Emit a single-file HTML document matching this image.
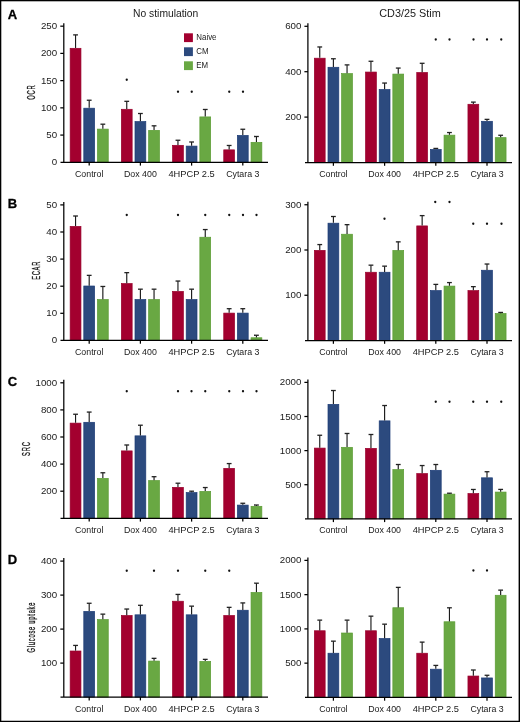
<!DOCTYPE html>
<html><head><meta charset="utf-8"><style>
html,body{margin:0;padding:0;background:#fff;}
body{width:520px;height:722px;overflow:hidden;}
svg{display:block;will-change:transform;}
text{font-family:"Liberation Sans", sans-serif;fill:#1a1a1a;}
.t{font-size:9.2px;text-anchor:end;}
.x{font-size:8.8px;text-anchor:middle;}
.yt{font-size:11.5px;text-anchor:middle;stroke:#1a1a1a;stroke-width:0.35;}
.p{font-size:13px;font-weight:bold;fill:#000;stroke:#000;stroke-width:0.3;}
.ti{font-size:10.3px;text-anchor:middle;}
.lg{font-size:8.4px;}
.a{stroke:#000;stroke-width:1.25;}
.e{stroke:#1a1a1a;stroke-width:1.15;}
.c{stroke:#222;stroke-width:1.3;}
</style></head><body>
<svg width="520" height="722" viewBox="0 0 520 722">
<rect x="0" y="0" width="520" height="722" fill="#fff"/>
<rect x="70.15" y="48.31" width="10.8" height="114" fill="#a3002f" stroke="#98002c" stroke-width="0.7"/>
<line x1="75.55" y1="47.96" x2="75.55" y2="34.89" class="e"/>
<line x1="73.15" y1="34.89" x2="77.95" y2="34.89" class="c"/>
<rect x="83.8" y="108.2" width="10.8" height="54.1" fill="#2c4a7e" stroke="#1c3b76" stroke-width="0.7"/>
<line x1="89.2" y1="107.85" x2="89.2" y2="100.23" class="e"/>
<line x1="86.8" y1="100.23" x2="91.6" y2="100.23" class="c"/>
<rect x="97.45" y="129.11" width="10.8" height="33.19" fill="#69a843" stroke="#5a9c33" stroke-width="0.7"/>
<line x1="102.85" y1="128.76" x2="102.85" y2="124.19" class="e"/>
<line x1="100.45" y1="124.19" x2="105.25" y2="124.19" class="c"/>
<rect x="121.35" y="109.29" width="10.8" height="53.01" fill="#a3002f" stroke="#98002c" stroke-width="0.7"/>
<line x1="126.75" y1="108.94" x2="126.75" y2="101.32" class="e"/>
<line x1="124.35" y1="101.32" x2="129.15" y2="101.32" class="c"/>
<rect x="135" y="121.59" width="10.8" height="40.71" fill="#2c4a7e" stroke="#1c3b76" stroke-width="0.7"/>
<line x1="140.4" y1="121.24" x2="140.4" y2="113.51" class="e"/>
<line x1="138" y1="113.51" x2="142.8" y2="113.51" class="c"/>
<rect x="148.65" y="130.36" width="10.8" height="31.94" fill="#69a843" stroke="#5a9c33" stroke-width="0.7"/>
<line x1="154.05" y1="130.01" x2="154.05" y2="125.82" class="e"/>
<line x1="151.65" y1="125.82" x2="156.45" y2="125.82" class="c"/>
<rect x="172.55" y="145.33" width="10.8" height="16.97" fill="#a3002f" stroke="#98002c" stroke-width="0.7"/>
<line x1="177.95" y1="144.98" x2="177.95" y2="140.25" class="e"/>
<line x1="175.55" y1="140.25" x2="180.35" y2="140.25" class="c"/>
<rect x="186.2" y="146.1" width="10.8" height="16.2" fill="#2c4a7e" stroke="#1c3b76" stroke-width="0.7"/>
<line x1="191.6" y1="145.75" x2="191.6" y2="141.99" class="e"/>
<line x1="189.2" y1="141.99" x2="194" y2="141.99" class="c"/>
<rect x="199.85" y="116.91" width="10.8" height="45.39" fill="#69a843" stroke="#5a9c33" stroke-width="0.7"/>
<line x1="205.25" y1="116.56" x2="205.25" y2="109.48" class="e"/>
<line x1="202.85" y1="109.48" x2="207.65" y2="109.48" class="c"/>
<rect x="223.75" y="149.85" width="10.8" height="12.45" fill="#a3002f" stroke="#98002c" stroke-width="0.7"/>
<line x1="229.15" y1="149.5" x2="229.15" y2="145.47" class="e"/>
<line x1="226.75" y1="145.47" x2="231.55" y2="145.47" class="c"/>
<rect x="237.4" y="135.43" width="10.8" height="26.87" fill="#2c4a7e" stroke="#1c3b76" stroke-width="0.7"/>
<line x1="242.8" y1="135.08" x2="242.8" y2="129.25" class="e"/>
<line x1="240.4" y1="129.25" x2="245.2" y2="129.25" class="c"/>
<rect x="251.05" y="142.34" width="10.8" height="19.96" fill="#69a843" stroke="#5a9c33" stroke-width="0.7"/>
<line x1="256.45" y1="141.99" x2="256.45" y2="136.49" class="e"/>
<line x1="254.05" y1="136.49" x2="258.85" y2="136.49" class="c"/>
<line x1="63.8" y1="23.18" x2="63.8" y2="162.3" class="a"/>
<line x1="60.5" y1="162.3" x2="268" y2="162.3" class="a"/>
<text transform="translate(57.2,165.3) scale(1.06,1)" class="t">0</text>
<line x1="60.3" y1="135.08" x2="63.8" y2="135.08" class="a"/>
<text transform="translate(57.2,138.08) scale(1.06,1)" class="t">50</text>
<line x1="60.3" y1="107.85" x2="63.8" y2="107.85" class="a"/>
<text transform="translate(57.2,110.85) scale(1.06,1)" class="t">100</text>
<line x1="60.3" y1="80.63" x2="63.8" y2="80.63" class="a"/>
<text transform="translate(57.2,83.63) scale(1.06,1)" class="t">150</text>
<line x1="60.3" y1="53.4" x2="63.8" y2="53.4" class="a"/>
<text transform="translate(57.2,56.4) scale(1.06,1)" class="t">200</text>
<line x1="60.3" y1="26.18" x2="63.8" y2="26.18" class="a"/>
<text transform="translate(57.2,29.18) scale(1.06,1)" class="t">250</text>
<line x1="89.2" y1="162.3" x2="89.2" y2="165.6" class="a"/>
<text x="89.2" y="176.7" class="x">Control</text>
<line x1="140.4" y1="162.3" x2="140.4" y2="165.6" class="a"/>
<text x="140.4" y="176.7" class="x">Dox 400</text>
<line x1="191.6" y1="162.3" x2="191.6" y2="165.6" class="a"/>
<text x="191.6" y="176.7" class="x" textLength="46.3" lengthAdjust="spacingAndGlyphs">4HPCP 2.5</text>
<line x1="242.8" y1="162.3" x2="242.8" y2="165.6" class="a"/>
<text x="242.8" y="176.7" class="x">Cytara 3</text>
<circle cx="126.75" cy="79.75" r="1.15" fill="#111"/>
<circle cx="178" cy="91.75" r="1.15" fill="#111"/>
<circle cx="191.75" cy="91.75" r="1.15" fill="#111"/>
<circle cx="229.25" cy="91.75" r="1.15" fill="#111"/>
<circle cx="243" cy="91.75" r="1.15" fill="#111"/>
<text transform="translate(35.2,92.6) rotate(-90) scale(0.5,1)" x="0.75" y="0" class="yt" letter-spacing="1.50">OCR</text>
<rect x="314.35" y="58.2" width="10.8" height="104.3" fill="#a3002f" stroke="#98002c" stroke-width="0.7"/>
<line x1="319.75" y1="57.85" x2="319.75" y2="46.96" class="e"/>
<line x1="317.35" y1="46.96" x2="322.15" y2="46.96" class="c"/>
<rect x="328" y="67.28" width="10.8" height="95.22" fill="#2c4a7e" stroke="#1c3b76" stroke-width="0.7"/>
<line x1="333.4" y1="66.93" x2="333.4" y2="58.76" class="e"/>
<line x1="331" y1="58.76" x2="335.8" y2="58.76" class="c"/>
<rect x="341.65" y="73.64" width="10.8" height="88.86" fill="#69a843" stroke="#5a9c33" stroke-width="0.7"/>
<line x1="347.05" y1="73.29" x2="347.05" y2="64.89" class="e"/>
<line x1="344.65" y1="64.89" x2="349.45" y2="64.89" class="c"/>
<rect x="365.55" y="72.05" width="10.8" height="90.45" fill="#a3002f" stroke="#98002c" stroke-width="0.7"/>
<line x1="370.95" y1="71.7" x2="370.95" y2="61.26" class="e"/>
<line x1="368.55" y1="61.26" x2="373.35" y2="61.26" class="c"/>
<rect x="379.2" y="89.53" width="10.8" height="72.97" fill="#2c4a7e" stroke="#1c3b76" stroke-width="0.7"/>
<line x1="384.6" y1="89.18" x2="384.6" y2="83.05" class="e"/>
<line x1="382.2" y1="83.05" x2="387" y2="83.05" class="c"/>
<rect x="392.85" y="74.09" width="10.8" height="88.41" fill="#69a843" stroke="#5a9c33" stroke-width="0.7"/>
<line x1="398.25" y1="73.74" x2="398.25" y2="68.07" class="e"/>
<line x1="395.85" y1="68.07" x2="400.65" y2="68.07" class="c"/>
<rect x="416.75" y="72.5" width="10.8" height="90" fill="#a3002f" stroke="#98002c" stroke-width="0.7"/>
<line x1="422.15" y1="72.15" x2="422.15" y2="63.3" class="e"/>
<line x1="419.75" y1="63.3" x2="424.55" y2="63.3" class="c"/>
<rect x="430.4" y="149.46" width="10.8" height="13.04" fill="#2c4a7e" stroke="#1c3b76" stroke-width="0.7"/>
<line x1="435.8" y1="149.11" x2="435.8" y2="148.43" class="e"/>
<line x1="433.4" y1="148.43" x2="438.2" y2="148.43" class="c"/>
<rect x="444.05" y="135.16" width="10.8" height="27.34" fill="#69a843" stroke="#5a9c33" stroke-width="0.7"/>
<line x1="449.45" y1="134.81" x2="449.45" y2="132.54" class="e"/>
<line x1="447.05" y1="132.54" x2="451.85" y2="132.54" class="c"/>
<rect x="467.95" y="104.28" width="10.8" height="58.22" fill="#a3002f" stroke="#98002c" stroke-width="0.7"/>
<line x1="473.35" y1="103.93" x2="473.35" y2="102.12" class="e"/>
<line x1="470.95" y1="102.12" x2="475.75" y2="102.12" class="c"/>
<rect x="481.6" y="121.31" width="10.8" height="41.19" fill="#2c4a7e" stroke="#1c3b76" stroke-width="0.7"/>
<line x1="487" y1="120.96" x2="487" y2="119.37" class="e"/>
<line x1="484.6" y1="119.37" x2="489.4" y2="119.37" class="c"/>
<rect x="495.25" y="137.65" width="10.8" height="24.85" fill="#69a843" stroke="#5a9c33" stroke-width="0.7"/>
<line x1="500.65" y1="137.3" x2="500.65" y2="135.26" class="e"/>
<line x1="498.25" y1="135.26" x2="503.05" y2="135.26" class="c"/>
<line x1="307.9" y1="23.3" x2="307.9" y2="162.5" class="a"/>
<line x1="305" y1="162.5" x2="512" y2="162.5" class="a"/>
<line x1="304.4" y1="117.1" x2="307.9" y2="117.1" class="a"/>
<text transform="translate(301.4,120.1) scale(1.06,1)" class="t">200</text>
<line x1="304.4" y1="71.7" x2="307.9" y2="71.7" class="a"/>
<text transform="translate(301.4,74.7) scale(1.06,1)" class="t">400</text>
<line x1="304.4" y1="26.3" x2="307.9" y2="26.3" class="a"/>
<text transform="translate(301.4,29.3) scale(1.06,1)" class="t">600</text>
<line x1="333.4" y1="162.5" x2="333.4" y2="165.8" class="a"/>
<text x="333.4" y="176.9" class="x">Control</text>
<line x1="384.6" y1="162.5" x2="384.6" y2="165.8" class="a"/>
<text x="384.6" y="176.9" class="x">Dox 400</text>
<line x1="435.8" y1="162.5" x2="435.8" y2="165.8" class="a"/>
<text x="435.8" y="176.9" class="x" textLength="46.3" lengthAdjust="spacingAndGlyphs">4HPCP 2.5</text>
<line x1="487" y1="162.5" x2="487" y2="165.8" class="a"/>
<text x="487" y="176.9" class="x">Cytara 3</text>
<circle cx="435.75" cy="39.5" r="1.15" fill="#111"/>
<circle cx="449.5" cy="39.5" r="1.15" fill="#111"/>
<circle cx="473.5" cy="39.5" r="1.15" fill="#111"/>
<circle cx="487" cy="39.5" r="1.15" fill="#111"/>
<circle cx="501.25" cy="39.5" r="1.15" fill="#111"/>
<rect x="70.15" y="226.39" width="10.8" height="114.01" fill="#a3002f" stroke="#98002c" stroke-width="0.7"/>
<line x1="75.55" y1="226.04" x2="75.55" y2="216.01" class="e"/>
<line x1="73.15" y1="216.01" x2="77.95" y2="216.01" class="c"/>
<rect x="83.8" y="286.01" width="10.8" height="54.39" fill="#2c4a7e" stroke="#1c3b76" stroke-width="0.7"/>
<line x1="89.2" y1="285.66" x2="89.2" y2="275.36" class="e"/>
<line x1="86.8" y1="275.36" x2="91.6" y2="275.36" class="c"/>
<rect x="97.45" y="299.56" width="10.8" height="40.84" fill="#69a843" stroke="#5a9c33" stroke-width="0.7"/>
<line x1="102.85" y1="299.21" x2="102.85" y2="286.47" class="e"/>
<line x1="100.45" y1="286.47" x2="105.25" y2="286.47" class="c"/>
<rect x="121.35" y="283.57" width="10.8" height="56.83" fill="#a3002f" stroke="#98002c" stroke-width="0.7"/>
<line x1="126.75" y1="283.22" x2="126.75" y2="272.65" class="e"/>
<line x1="124.35" y1="272.65" x2="129.15" y2="272.65" class="c"/>
<rect x="135" y="299.56" width="10.8" height="40.84" fill="#2c4a7e" stroke="#1c3b76" stroke-width="0.7"/>
<line x1="140.4" y1="299.21" x2="140.4" y2="289.18" class="e"/>
<line x1="138" y1="289.18" x2="142.8" y2="289.18" class="c"/>
<rect x="148.65" y="299.56" width="10.8" height="40.84" fill="#69a843" stroke="#5a9c33" stroke-width="0.7"/>
<line x1="154.05" y1="299.21" x2="154.05" y2="289.18" class="e"/>
<line x1="151.65" y1="289.18" x2="156.45" y2="289.18" class="c"/>
<rect x="172.55" y="291.43" width="10.8" height="48.97" fill="#a3002f" stroke="#98002c" stroke-width="0.7"/>
<line x1="177.95" y1="291.08" x2="177.95" y2="281.05" class="e"/>
<line x1="175.55" y1="281.05" x2="180.35" y2="281.05" class="c"/>
<rect x="186.2" y="299.56" width="10.8" height="40.84" fill="#2c4a7e" stroke="#1c3b76" stroke-width="0.7"/>
<line x1="191.6" y1="299.21" x2="191.6" y2="289.18" class="e"/>
<line x1="189.2" y1="289.18" x2="194" y2="289.18" class="c"/>
<rect x="199.85" y="237.23" width="10.8" height="103.17" fill="#69a843" stroke="#5a9c33" stroke-width="0.7"/>
<line x1="205.25" y1="236.88" x2="205.25" y2="229.56" class="e"/>
<line x1="202.85" y1="229.56" x2="207.65" y2="229.56" class="c"/>
<rect x="223.75" y="313.11" width="10.8" height="27.29" fill="#a3002f" stroke="#98002c" stroke-width="0.7"/>
<line x1="229.15" y1="312.76" x2="229.15" y2="308.69" class="e"/>
<line x1="226.75" y1="308.69" x2="231.55" y2="308.69" class="c"/>
<rect x="237.4" y="313.11" width="10.8" height="27.29" fill="#2c4a7e" stroke="#1c3b76" stroke-width="0.7"/>
<line x1="242.8" y1="312.76" x2="242.8" y2="308.69" class="e"/>
<line x1="240.4" y1="308.69" x2="245.2" y2="308.69" class="c"/>
<rect x="251.05" y="337.77" width="10.8" height="2.63" fill="#69a843" stroke="#5a9c33" stroke-width="0.7"/>
<line x1="256.45" y1="337.42" x2="256.45" y2="335.25" class="e"/>
<line x1="254.05" y1="335.25" x2="258.85" y2="335.25" class="c"/>
<line x1="63.8" y1="201.9" x2="63.8" y2="340.4" class="a"/>
<line x1="60.5" y1="340.4" x2="268" y2="340.4" class="a"/>
<text transform="translate(57.2,343.4) scale(1.06,1)" class="t">0</text>
<line x1="60.3" y1="313.3" x2="63.8" y2="313.3" class="a"/>
<text transform="translate(57.2,316.3) scale(1.06,1)" class="t">10</text>
<line x1="60.3" y1="286.2" x2="63.8" y2="286.2" class="a"/>
<text transform="translate(57.2,289.2) scale(1.06,1)" class="t">20</text>
<line x1="60.3" y1="259.1" x2="63.8" y2="259.1" class="a"/>
<text transform="translate(57.2,262.1) scale(1.06,1)" class="t">30</text>
<line x1="60.3" y1="232" x2="63.8" y2="232" class="a"/>
<text transform="translate(57.2,235) scale(1.06,1)" class="t">40</text>
<line x1="60.3" y1="204.9" x2="63.8" y2="204.9" class="a"/>
<text transform="translate(57.2,207.9) scale(1.06,1)" class="t">50</text>
<line x1="89.2" y1="340.4" x2="89.2" y2="343.7" class="a"/>
<text x="89.2" y="354.8" class="x">Control</text>
<line x1="140.4" y1="340.4" x2="140.4" y2="343.7" class="a"/>
<text x="140.4" y="354.8" class="x">Dox 400</text>
<line x1="191.6" y1="340.4" x2="191.6" y2="343.7" class="a"/>
<text x="191.6" y="354.8" class="x" textLength="46.3" lengthAdjust="spacingAndGlyphs">4HPCP 2.5</text>
<line x1="242.8" y1="340.4" x2="242.8" y2="343.7" class="a"/>
<text x="242.8" y="354.8" class="x">Cytara 3</text>
<circle cx="126.75" cy="215" r="1.15" fill="#111"/>
<circle cx="178" cy="215" r="1.15" fill="#111"/>
<circle cx="205.25" cy="215" r="1.15" fill="#111"/>
<circle cx="229.25" cy="215" r="1.15" fill="#111"/>
<circle cx="243" cy="215" r="1.15" fill="#111"/>
<circle cx="256.5" cy="215" r="1.15" fill="#111"/>
<text transform="translate(40.2,270.75) rotate(-90) scale(0.5,1)" x="0.7" y="0" class="yt" letter-spacing="1.40">ECAR</text>
<rect x="314.35" y="250.35" width="10.8" height="90.15" fill="#a3002f" stroke="#98002c" stroke-width="0.7"/>
<line x1="319.75" y1="250" x2="319.75" y2="244.57" class="e"/>
<line x1="317.35" y1="244.57" x2="322.15" y2="244.57" class="c"/>
<rect x="328" y="223.2" width="10.8" height="117.3" fill="#2c4a7e" stroke="#1c3b76" stroke-width="0.7"/>
<line x1="333.4" y1="222.85" x2="333.4" y2="216.51" class="e"/>
<line x1="331" y1="216.51" x2="335.8" y2="216.51" class="c"/>
<rect x="341.65" y="234.24" width="10.8" height="106.26" fill="#69a843" stroke="#5a9c33" stroke-width="0.7"/>
<line x1="347.05" y1="233.89" x2="347.05" y2="224.66" class="e"/>
<line x1="344.65" y1="224.66" x2="349.45" y2="224.66" class="c"/>
<rect x="365.55" y="272.25" width="10.8" height="68.25" fill="#a3002f" stroke="#98002c" stroke-width="0.7"/>
<line x1="370.95" y1="271.9" x2="370.95" y2="265.16" class="e"/>
<line x1="368.55" y1="265.16" x2="373.35" y2="265.16" class="c"/>
<rect x="379.2" y="272.25" width="10.8" height="68.25" fill="#2c4a7e" stroke="#1c3b76" stroke-width="0.7"/>
<line x1="384.6" y1="271.9" x2="384.6" y2="266.15" class="e"/>
<line x1="382.2" y1="266.15" x2="387" y2="266.15" class="c"/>
<rect x="392.85" y="250.49" width="10.8" height="90.01" fill="#69a843" stroke="#5a9c33" stroke-width="0.7"/>
<line x1="398.25" y1="250.14" x2="398.25" y2="241.86" class="e"/>
<line x1="395.85" y1="241.86" x2="400.65" y2="241.86" class="c"/>
<rect x="416.75" y="225.91" width="10.8" height="114.59" fill="#a3002f" stroke="#98002c" stroke-width="0.7"/>
<line x1="422.15" y1="225.56" x2="422.15" y2="215.61" class="e"/>
<line x1="419.75" y1="215.61" x2="424.55" y2="215.61" class="c"/>
<rect x="430.4" y="290.62" width="10.8" height="49.88" fill="#2c4a7e" stroke="#1c3b76" stroke-width="0.7"/>
<line x1="435.8" y1="290.27" x2="435.8" y2="284.39" class="e"/>
<line x1="433.4" y1="284.39" x2="438.2" y2="284.39" class="c"/>
<rect x="444.05" y="286.1" width="10.8" height="54.4" fill="#69a843" stroke="#5a9c33" stroke-width="0.7"/>
<line x1="449.45" y1="285.75" x2="449.45" y2="282.58" class="e"/>
<line x1="447.05" y1="282.58" x2="451.85" y2="282.58" class="c"/>
<rect x="467.95" y="290.62" width="10.8" height="49.88" fill="#a3002f" stroke="#98002c" stroke-width="0.7"/>
<line x1="473.35" y1="290.27" x2="473.35" y2="286.65" class="e"/>
<line x1="470.95" y1="286.65" x2="475.75" y2="286.65" class="c"/>
<rect x="481.6" y="270.26" width="10.8" height="70.24" fill="#2c4a7e" stroke="#1c3b76" stroke-width="0.7"/>
<line x1="487" y1="269.91" x2="487" y2="264.03" class="e"/>
<line x1="484.6" y1="264.03" x2="489.4" y2="264.03" class="c"/>
<rect x="495.25" y="313.52" width="10.8" height="26.98" fill="#69a843" stroke="#5a9c33" stroke-width="0.7"/>
<line x1="500.65" y1="313.17" x2="500.65" y2="312.44" class="e"/>
<line x1="498.25" y1="312.44" x2="503.05" y2="312.44" class="c"/>
<line x1="307.9" y1="201.75" x2="307.9" y2="340.5" class="a"/>
<line x1="305" y1="340.5" x2="512" y2="340.5" class="a"/>
<line x1="304.4" y1="295.25" x2="307.9" y2="295.25" class="a"/>
<text transform="translate(301.4,298.25) scale(1.06,1)" class="t">100</text>
<line x1="304.4" y1="250" x2="307.9" y2="250" class="a"/>
<text transform="translate(301.4,253) scale(1.06,1)" class="t">200</text>
<line x1="304.4" y1="204.75" x2="307.9" y2="204.75" class="a"/>
<text transform="translate(301.4,207.75) scale(1.06,1)" class="t">300</text>
<line x1="333.4" y1="340.5" x2="333.4" y2="343.8" class="a"/>
<text x="333.4" y="354.9" class="x">Control</text>
<line x1="384.6" y1="340.5" x2="384.6" y2="343.8" class="a"/>
<text x="384.6" y="354.9" class="x">Dox 400</text>
<line x1="435.8" y1="340.5" x2="435.8" y2="343.8" class="a"/>
<text x="435.8" y="354.9" class="x" textLength="46.3" lengthAdjust="spacingAndGlyphs">4HPCP 2.5</text>
<line x1="487" y1="340.5" x2="487" y2="343.8" class="a"/>
<text x="487" y="354.9" class="x">Cytara 3</text>
<circle cx="384.5" cy="218.75" r="1.15" fill="#111"/>
<circle cx="435.25" cy="202" r="1.15" fill="#111"/>
<circle cx="449.5" cy="202" r="1.15" fill="#111"/>
<circle cx="473.25" cy="223.75" r="1.15" fill="#111"/>
<circle cx="487" cy="223.75" r="1.15" fill="#111"/>
<circle cx="501.5" cy="223.75" r="1.15" fill="#111"/>
<rect x="70.15" y="423.12" width="10.8" height="95.18" fill="#a3002f" stroke="#98002c" stroke-width="0.7"/>
<line x1="75.55" y1="422.77" x2="75.55" y2="414.24" class="e"/>
<line x1="73.15" y1="414.24" x2="77.95" y2="414.24" class="c"/>
<rect x="83.8" y="422.31" width="10.8" height="95.99" fill="#2c4a7e" stroke="#1c3b76" stroke-width="0.7"/>
<line x1="89.2" y1="421.96" x2="89.2" y2="412.07" class="e"/>
<line x1="86.8" y1="412.07" x2="91.6" y2="412.07" class="c"/>
<rect x="97.45" y="478.41" width="10.8" height="39.89" fill="#69a843" stroke="#5a9c33" stroke-width="0.7"/>
<line x1="102.85" y1="478.06" x2="102.85" y2="472.77" class="e"/>
<line x1="100.45" y1="472.77" x2="105.25" y2="472.77" class="c"/>
<rect x="121.35" y="450.9" width="10.8" height="67.4" fill="#a3002f" stroke="#98002c" stroke-width="0.7"/>
<line x1="126.75" y1="450.55" x2="126.75" y2="444.99" class="e"/>
<line x1="124.35" y1="444.99" x2="129.15" y2="444.99" class="c"/>
<rect x="135" y="435.86" width="10.8" height="82.44" fill="#2c4a7e" stroke="#1c3b76" stroke-width="0.7"/>
<line x1="140.4" y1="435.51" x2="140.4" y2="425.21" class="e"/>
<line x1="138" y1="425.21" x2="142.8" y2="425.21" class="c"/>
<rect x="148.65" y="480.57" width="10.8" height="37.73" fill="#69a843" stroke="#5a9c33" stroke-width="0.7"/>
<line x1="154.05" y1="480.22" x2="154.05" y2="476.7" class="e"/>
<line x1="151.65" y1="476.7" x2="156.45" y2="476.7" class="c"/>
<rect x="172.55" y="487.35" width="10.8" height="30.95" fill="#a3002f" stroke="#98002c" stroke-width="0.7"/>
<line x1="177.95" y1="487" x2="177.95" y2="483.21" class="e"/>
<line x1="175.55" y1="483.21" x2="180.35" y2="483.21" class="c"/>
<rect x="186.2" y="492.63" width="10.8" height="25.67" fill="#2c4a7e" stroke="#1c3b76" stroke-width="0.7"/>
<line x1="191.6" y1="492.28" x2="191.6" y2="491.2" class="e"/>
<line x1="189.2" y1="491.2" x2="194" y2="491.2" class="c"/>
<rect x="199.85" y="491.41" width="10.8" height="26.89" fill="#69a843" stroke="#5a9c33" stroke-width="0.7"/>
<line x1="205.25" y1="491.06" x2="205.25" y2="487.54" class="e"/>
<line x1="202.85" y1="487.54" x2="207.65" y2="487.54" class="c"/>
<rect x="223.75" y="468.38" width="10.8" height="49.92" fill="#a3002f" stroke="#98002c" stroke-width="0.7"/>
<line x1="229.15" y1="468.03" x2="229.15" y2="463.56" class="e"/>
<line x1="226.75" y1="463.56" x2="231.55" y2="463.56" class="c"/>
<rect x="237.4" y="505.1" width="10.8" height="13.2" fill="#2c4a7e" stroke="#1c3b76" stroke-width="0.7"/>
<line x1="242.8" y1="504.75" x2="242.8" y2="503.26" class="e"/>
<line x1="240.4" y1="503.26" x2="245.2" y2="503.26" class="c"/>
<rect x="251.05" y="506.32" width="10.8" height="11.98" fill="#69a843" stroke="#5a9c33" stroke-width="0.7"/>
<line x1="256.45" y1="505.97" x2="256.45" y2="505.02" class="e"/>
<line x1="254.05" y1="505.02" x2="258.85" y2="505.02" class="c"/>
<line x1="63.8" y1="379.8" x2="63.8" y2="518.3" class="a"/>
<line x1="60.5" y1="518.3" x2="268" y2="518.3" class="a"/>
<line x1="60.3" y1="491.2" x2="63.8" y2="491.2" class="a"/>
<text transform="translate(57.2,494.2) scale(1.06,1)" class="t">200</text>
<line x1="60.3" y1="464.1" x2="63.8" y2="464.1" class="a"/>
<text transform="translate(57.2,467.1) scale(1.06,1)" class="t">400</text>
<line x1="60.3" y1="437" x2="63.8" y2="437" class="a"/>
<text transform="translate(57.2,440) scale(1.06,1)" class="t">600</text>
<line x1="60.3" y1="409.9" x2="63.8" y2="409.9" class="a"/>
<text transform="translate(57.2,412.9) scale(1.06,1)" class="t">800</text>
<line x1="60.3" y1="382.8" x2="63.8" y2="382.8" class="a"/>
<text transform="translate(57.2,385.8) scale(1.06,1)" class="t">1000</text>
<line x1="89.2" y1="518.3" x2="89.2" y2="521.6" class="a"/>
<text x="89.2" y="532.7" class="x">Control</text>
<line x1="140.4" y1="518.3" x2="140.4" y2="521.6" class="a"/>
<text x="140.4" y="532.7" class="x">Dox 400</text>
<line x1="191.6" y1="518.3" x2="191.6" y2="521.6" class="a"/>
<text x="191.6" y="532.7" class="x" textLength="46.3" lengthAdjust="spacingAndGlyphs">4HPCP 2.5</text>
<line x1="242.8" y1="518.3" x2="242.8" y2="521.6" class="a"/>
<text x="242.8" y="532.7" class="x">Cytara 3</text>
<circle cx="126.75" cy="391.25" r="1.15" fill="#111"/>
<circle cx="178" cy="391.25" r="1.15" fill="#111"/>
<circle cx="191.5" cy="391.25" r="1.15" fill="#111"/>
<circle cx="205.25" cy="391.25" r="1.15" fill="#111"/>
<circle cx="229.25" cy="391.25" r="1.15" fill="#111"/>
<circle cx="243" cy="391.25" r="1.15" fill="#111"/>
<circle cx="256.5" cy="391.25" r="1.15" fill="#111"/>
<text transform="translate(30,449) rotate(-90) scale(0.5,1)" x="0.88" y="0" class="yt" letter-spacing="1.75">SRC</text>
<rect x="314.35" y="448.09" width="10.8" height="70.71" fill="#a3002f" stroke="#98002c" stroke-width="0.7"/>
<line x1="319.75" y1="447.74" x2="319.75" y2="435.25" class="e"/>
<line x1="317.35" y1="435.25" x2="322.15" y2="435.25" class="c"/>
<rect x="328" y="404.37" width="10.8" height="114.43" fill="#2c4a7e" stroke="#1c3b76" stroke-width="0.7"/>
<line x1="333.4" y1="404.02" x2="333.4" y2="390.52" class="e"/>
<line x1="331" y1="390.52" x2="335.8" y2="390.52" class="c"/>
<rect x="341.65" y="447.34" width="10.8" height="71.46" fill="#69a843" stroke="#5a9c33" stroke-width="0.7"/>
<line x1="347.05" y1="446.99" x2="347.05" y2="433.48" class="e"/>
<line x1="344.65" y1="433.48" x2="349.45" y2="433.48" class="c"/>
<rect x="365.55" y="448.36" width="10.8" height="70.44" fill="#a3002f" stroke="#98002c" stroke-width="0.7"/>
<line x1="370.95" y1="448.01" x2="370.95" y2="434.5" class="e"/>
<line x1="368.55" y1="434.5" x2="373.35" y2="434.5" class="c"/>
<rect x="379.2" y="420.87" width="10.8" height="97.93" fill="#2c4a7e" stroke="#1c3b76" stroke-width="0.7"/>
<line x1="384.6" y1="420.52" x2="384.6" y2="405.52" class="e"/>
<line x1="382.2" y1="405.52" x2="387" y2="405.52" class="c"/>
<rect x="392.85" y="469.64" width="10.8" height="49.16" fill="#69a843" stroke="#5a9c33" stroke-width="0.7"/>
<line x1="398.25" y1="469.29" x2="398.25" y2="464.51" class="e"/>
<line x1="395.85" y1="464.51" x2="400.65" y2="464.51" class="c"/>
<rect x="416.75" y="473.59" width="10.8" height="45.21" fill="#a3002f" stroke="#98002c" stroke-width="0.7"/>
<line x1="422.15" y1="473.24" x2="422.15" y2="465.54" class="e"/>
<line x1="419.75" y1="465.54" x2="424.55" y2="465.54" class="c"/>
<rect x="430.4" y="470.32" width="10.8" height="48.48" fill="#2c4a7e" stroke="#1c3b76" stroke-width="0.7"/>
<line x1="435.8" y1="469.97" x2="435.8" y2="464.51" class="e"/>
<line x1="433.4" y1="464.51" x2="438.2" y2="464.51" class="c"/>
<rect x="444.05" y="494.12" width="10.8" height="24.68" fill="#69a843" stroke="#5a9c33" stroke-width="0.7"/>
<line x1="449.45" y1="493.77" x2="449.45" y2="493.22" class="e"/>
<line x1="447.05" y1="493.22" x2="451.85" y2="493.22" class="c"/>
<rect x="467.95" y="493.57" width="10.8" height="25.22" fill="#a3002f" stroke="#98002c" stroke-width="0.7"/>
<line x1="473.35" y1="493.22" x2="473.35" y2="489.47" class="e"/>
<line x1="470.95" y1="489.47" x2="475.75" y2="489.47" class="c"/>
<rect x="481.6" y="477.82" width="10.8" height="40.98" fill="#2c4a7e" stroke="#1c3b76" stroke-width="0.7"/>
<line x1="487" y1="477.47" x2="487" y2="471.74" class="e"/>
<line x1="484.6" y1="471.74" x2="489.4" y2="471.74" class="c"/>
<rect x="495.25" y="492.07" width="10.8" height="26.73" fill="#69a843" stroke="#5a9c33" stroke-width="0.7"/>
<line x1="500.65" y1="491.72" x2="500.65" y2="489.41" class="e"/>
<line x1="498.25" y1="489.41" x2="503.05" y2="489.41" class="c"/>
<line x1="307.9" y1="379.4" x2="307.9" y2="518.8" class="a"/>
<line x1="305" y1="518.8" x2="512" y2="518.8" class="a"/>
<line x1="304.4" y1="484.7" x2="307.9" y2="484.7" class="a"/>
<text transform="translate(301.4,487.7) scale(1.06,1)" class="t">500</text>
<line x1="304.4" y1="450.6" x2="307.9" y2="450.6" class="a"/>
<text transform="translate(301.4,453.6) scale(1.06,1)" class="t">1000</text>
<line x1="304.4" y1="416.5" x2="307.9" y2="416.5" class="a"/>
<text transform="translate(301.4,419.5) scale(1.06,1)" class="t">1500</text>
<line x1="304.4" y1="382.4" x2="307.9" y2="382.4" class="a"/>
<text transform="translate(301.4,385.4) scale(1.06,1)" class="t">2000</text>
<line x1="333.4" y1="518.8" x2="333.4" y2="522.1" class="a"/>
<text x="333.4" y="533.2" class="x">Control</text>
<line x1="384.6" y1="518.8" x2="384.6" y2="522.1" class="a"/>
<text x="384.6" y="533.2" class="x">Dox 400</text>
<line x1="435.8" y1="518.8" x2="435.8" y2="522.1" class="a"/>
<text x="435.8" y="533.2" class="x" textLength="46.3" lengthAdjust="spacingAndGlyphs">4HPCP 2.5</text>
<line x1="487" y1="518.8" x2="487" y2="522.1" class="a"/>
<text x="487" y="533.2" class="x">Cytara 3</text>
<circle cx="435.75" cy="401.75" r="1.15" fill="#111"/>
<circle cx="449.5" cy="401.75" r="1.15" fill="#111"/>
<circle cx="473.25" cy="401.75" r="1.15" fill="#111"/>
<circle cx="487" cy="401.75" r="1.15" fill="#111"/>
<circle cx="501.25" cy="401.75" r="1.15" fill="#111"/>
<rect x="70.15" y="651.01" width="10.8" height="46.09" fill="#a3002f" stroke="#98002c" stroke-width="0.7"/>
<line x1="75.55" y1="650.66" x2="75.55" y2="645.42" class="e"/>
<line x1="73.15" y1="645.42" x2="77.95" y2="645.42" class="c"/>
<rect x="83.8" y="611.43" width="10.8" height="85.67" fill="#2c4a7e" stroke="#1c3b76" stroke-width="0.7"/>
<line x1="89.2" y1="611.08" x2="89.2" y2="603.26" class="e"/>
<line x1="86.8" y1="603.26" x2="91.6" y2="603.26" class="c"/>
<rect x="97.45" y="619.59" width="10.8" height="77.51" fill="#69a843" stroke="#5a9c33" stroke-width="0.7"/>
<line x1="102.85" y1="619.24" x2="102.85" y2="614.14" class="e"/>
<line x1="100.45" y1="614.14" x2="105.25" y2="614.14" class="c"/>
<rect x="121.35" y="615.51" width="10.8" height="81.59" fill="#a3002f" stroke="#98002c" stroke-width="0.7"/>
<line x1="126.75" y1="615.16" x2="126.75" y2="609.04" class="e"/>
<line x1="124.35" y1="609.04" x2="129.15" y2="609.04" class="c"/>
<rect x="135" y="614.83" width="10.8" height="82.27" fill="#2c4a7e" stroke="#1c3b76" stroke-width="0.7"/>
<line x1="140.4" y1="614.48" x2="140.4" y2="605.3" class="e"/>
<line x1="138" y1="605.3" x2="142.8" y2="605.3" class="c"/>
<rect x="148.65" y="661.07" width="10.8" height="36.03" fill="#69a843" stroke="#5a9c33" stroke-width="0.7"/>
<line x1="154.05" y1="660.72" x2="154.05" y2="658.34" class="e"/>
<line x1="151.65" y1="658.34" x2="156.45" y2="658.34" class="c"/>
<rect x="172.55" y="601.23" width="10.8" height="95.87" fill="#a3002f" stroke="#98002c" stroke-width="0.7"/>
<line x1="177.95" y1="600.88" x2="177.95" y2="594.42" class="e"/>
<line x1="175.55" y1="594.42" x2="180.35" y2="594.42" class="c"/>
<rect x="186.2" y="614.83" width="10.8" height="82.27" fill="#2c4a7e" stroke="#1c3b76" stroke-width="0.7"/>
<line x1="191.6" y1="614.48" x2="191.6" y2="606.15" class="e"/>
<line x1="189.2" y1="606.15" x2="194" y2="606.15" class="c"/>
<rect x="199.85" y="661.41" width="10.8" height="35.69" fill="#69a843" stroke="#5a9c33" stroke-width="0.7"/>
<line x1="205.25" y1="661.06" x2="205.25" y2="659.36" class="e"/>
<line x1="202.85" y1="659.36" x2="207.65" y2="659.36" class="c"/>
<rect x="223.75" y="615.51" width="10.8" height="81.59" fill="#a3002f" stroke="#98002c" stroke-width="0.7"/>
<line x1="229.15" y1="615.16" x2="229.15" y2="607.34" class="e"/>
<line x1="226.75" y1="607.34" x2="231.55" y2="607.34" class="c"/>
<rect x="237.4" y="610.24" width="10.8" height="86.86" fill="#2c4a7e" stroke="#1c3b76" stroke-width="0.7"/>
<line x1="242.8" y1="609.89" x2="242.8" y2="602.92" class="e"/>
<line x1="240.4" y1="602.92" x2="245.2" y2="602.92" class="c"/>
<rect x="251.05" y="592.49" width="10.8" height="104.61" fill="#69a843" stroke="#5a9c33" stroke-width="0.7"/>
<line x1="256.45" y1="592.14" x2="256.45" y2="583.2" class="e"/>
<line x1="254.05" y1="583.2" x2="258.85" y2="583.2" class="c"/>
<line x1="63.8" y1="558.1" x2="63.8" y2="697.1" class="a"/>
<line x1="60.5" y1="697.1" x2="268" y2="697.1" class="a"/>
<line x1="60.3" y1="663.1" x2="63.8" y2="663.1" class="a"/>
<text transform="translate(57.2,666.1) scale(1.06,1)" class="t">100</text>
<line x1="60.3" y1="629.1" x2="63.8" y2="629.1" class="a"/>
<text transform="translate(57.2,632.1) scale(1.06,1)" class="t">200</text>
<line x1="60.3" y1="595.1" x2="63.8" y2="595.1" class="a"/>
<text transform="translate(57.2,598.1) scale(1.06,1)" class="t">300</text>
<line x1="60.3" y1="561.1" x2="63.8" y2="561.1" class="a"/>
<text transform="translate(57.2,564.1) scale(1.06,1)" class="t">400</text>
<line x1="89.2" y1="697.1" x2="89.2" y2="700.4" class="a"/>
<text x="89.2" y="711.5" class="x">Control</text>
<line x1="140.4" y1="697.1" x2="140.4" y2="700.4" class="a"/>
<text x="140.4" y="711.5" class="x">Dox 400</text>
<line x1="191.6" y1="697.1" x2="191.6" y2="700.4" class="a"/>
<text x="191.6" y="711.5" class="x" textLength="46.3" lengthAdjust="spacingAndGlyphs">4HPCP 2.5</text>
<line x1="242.8" y1="697.1" x2="242.8" y2="700.4" class="a"/>
<text x="242.8" y="711.5" class="x">Cytara 3</text>
<circle cx="126.75" cy="570.75" r="1.15" fill="#111"/>
<circle cx="154" cy="570.75" r="1.15" fill="#111"/>
<circle cx="178" cy="570.75" r="1.15" fill="#111"/>
<circle cx="205.25" cy="570.75" r="1.15" fill="#111"/>
<circle cx="229.25" cy="570.75" r="1.15" fill="#111"/>
<text transform="translate(35.3,627.5) rotate(-90) scale(0.5,1)" x="0.77" y="0" class="yt" letter-spacing="1.53">Glucose uptake</text>
<rect x="314.35" y="630.76" width="10.8" height="66.64" fill="#a3002f" stroke="#98002c" stroke-width="0.7"/>
<line x1="319.75" y1="630.41" x2="319.75" y2="620.13" class="e"/>
<line x1="317.35" y1="620.13" x2="322.15" y2="620.13" class="c"/>
<rect x="328" y="653.23" width="10.8" height="44.17" fill="#2c4a7e" stroke="#1c3b76" stroke-width="0.7"/>
<line x1="333.4" y1="652.88" x2="333.4" y2="641.16" class="e"/>
<line x1="331" y1="641.16" x2="335.8" y2="641.16" class="c"/>
<rect x="341.65" y="633.02" width="10.8" height="64.38" fill="#69a843" stroke="#5a9c33" stroke-width="0.7"/>
<line x1="347.05" y1="632.67" x2="347.05" y2="620.13" class="e"/>
<line x1="344.65" y1="620.13" x2="349.45" y2="620.13" class="c"/>
<rect x="365.55" y="630.76" width="10.8" height="66.64" fill="#a3002f" stroke="#98002c" stroke-width="0.7"/>
<line x1="370.95" y1="630.41" x2="370.95" y2="616.16" class="e"/>
<line x1="368.55" y1="616.16" x2="373.35" y2="616.16" class="c"/>
<rect x="379.2" y="638.5" width="10.8" height="58.9" fill="#2c4a7e" stroke="#1c3b76" stroke-width="0.7"/>
<line x1="384.6" y1="638.15" x2="384.6" y2="624.17" class="e"/>
<line x1="382.2" y1="624.17" x2="387" y2="624.17" class="c"/>
<rect x="392.85" y="607.74" width="10.8" height="89.66" fill="#69a843" stroke="#5a9c33" stroke-width="0.7"/>
<line x1="398.25" y1="607.39" x2="398.25" y2="587.39" class="e"/>
<line x1="395.85" y1="587.39" x2="400.65" y2="587.39" class="c"/>
<rect x="416.75" y="653.23" width="10.8" height="44.17" fill="#a3002f" stroke="#98002c" stroke-width="0.7"/>
<line x1="422.15" y1="652.88" x2="422.15" y2="642.12" class="e"/>
<line x1="419.75" y1="642.12" x2="424.55" y2="642.12" class="c"/>
<rect x="430.4" y="669.19" width="10.8" height="28.21" fill="#2c4a7e" stroke="#1c3b76" stroke-width="0.7"/>
<line x1="435.8" y1="668.84" x2="435.8" y2="665.41" class="e"/>
<line x1="433.4" y1="665.41" x2="438.2" y2="665.41" class="c"/>
<rect x="444.05" y="621.78" width="10.8" height="75.62" fill="#69a843" stroke="#5a9c33" stroke-width="0.7"/>
<line x1="449.45" y1="621.43" x2="449.45" y2="607.8" class="e"/>
<line x1="447.05" y1="607.8" x2="451.85" y2="607.8" class="c"/>
<rect x="467.95" y="676.04" width="10.8" height="21.36" fill="#a3002f" stroke="#98002c" stroke-width="0.7"/>
<line x1="473.35" y1="675.69" x2="473.35" y2="670" class="e"/>
<line x1="470.95" y1="670" x2="475.75" y2="670" class="c"/>
<rect x="481.6" y="677.95" width="10.8" height="19.45" fill="#2c4a7e" stroke="#1c3b76" stroke-width="0.7"/>
<line x1="487" y1="677.6" x2="487" y2="675.27" class="e"/>
<line x1="484.6" y1="675.27" x2="489.4" y2="675.27" class="c"/>
<rect x="495.25" y="595.27" width="10.8" height="102.13" fill="#69a843" stroke="#5a9c33" stroke-width="0.7"/>
<line x1="500.65" y1="594.92" x2="500.65" y2="590.13" class="e"/>
<line x1="498.25" y1="590.13" x2="503.05" y2="590.13" class="c"/>
<line x1="307.9" y1="557.4" x2="307.9" y2="697.4" class="a"/>
<line x1="305" y1="697.4" x2="512" y2="697.4" class="a"/>
<line x1="304.4" y1="663.15" x2="307.9" y2="663.15" class="a"/>
<text transform="translate(301.4,666.15) scale(1.06,1)" class="t">500</text>
<line x1="304.4" y1="628.9" x2="307.9" y2="628.9" class="a"/>
<text transform="translate(301.4,631.9) scale(1.06,1)" class="t">1000</text>
<line x1="304.4" y1="594.65" x2="307.9" y2="594.65" class="a"/>
<text transform="translate(301.4,597.65) scale(1.06,1)" class="t">1500</text>
<line x1="304.4" y1="560.4" x2="307.9" y2="560.4" class="a"/>
<text transform="translate(301.4,563.4) scale(1.06,1)" class="t">2000</text>
<line x1="333.4" y1="697.4" x2="333.4" y2="700.7" class="a"/>
<text x="333.4" y="711.8" class="x">Control</text>
<line x1="384.6" y1="697.4" x2="384.6" y2="700.7" class="a"/>
<text x="384.6" y="711.8" class="x">Dox 400</text>
<line x1="435.8" y1="697.4" x2="435.8" y2="700.7" class="a"/>
<text x="435.8" y="711.8" class="x" textLength="46.3" lengthAdjust="spacingAndGlyphs">4HPCP 2.5</text>
<line x1="487" y1="697.4" x2="487" y2="700.7" class="a"/>
<text x="487" y="711.8" class="x">Cytara 3</text>
<circle cx="473.4" cy="570.5" r="1.15" fill="#111"/>
<circle cx="487" cy="570.5" r="1.15" fill="#111"/>
<text x="7.8" y="18.8" class="p">A</text>
<text x="7.8" y="208" class="p">B</text>
<text x="7.8" y="386" class="p">C</text>
<text x="7.8" y="564.4" class="p">D</text>
<text x="165.7" y="17" class="ti">No stimulation</text>
<text x="410" y="17" class="ti" textLength="61.5" lengthAdjust="spacingAndGlyphs">CD3/25 Stim</text>
<rect x="184" y="33.3" width="8.9" height="8.8" fill="#a3002f"/>
<text transform="translate(196.3,40.35) scale(0.94,1)" class="lg">Naive</text>
<rect x="184" y="47.3" width="8.9" height="8.8" fill="#2c4a7e"/>
<text transform="translate(196.3,54.1) scale(0.94,1)" class="lg">CM</text>
<rect x="184" y="61.3" width="8.9" height="8.8" fill="#69a843"/>
<text transform="translate(196.3,67.85) scale(0.94,1)" class="lg">EM</text>
<rect x="0" y="0" width="520" height="1.3" fill="#000"/><rect x="0" y="0" width="1.3" height="722" fill="#000"/><rect x="518.6" y="0" width="1.4" height="722" fill="#000"/><rect x="0" y="720.75" width="520" height="1.25" fill="#000"/>
</svg>
</body></html>
